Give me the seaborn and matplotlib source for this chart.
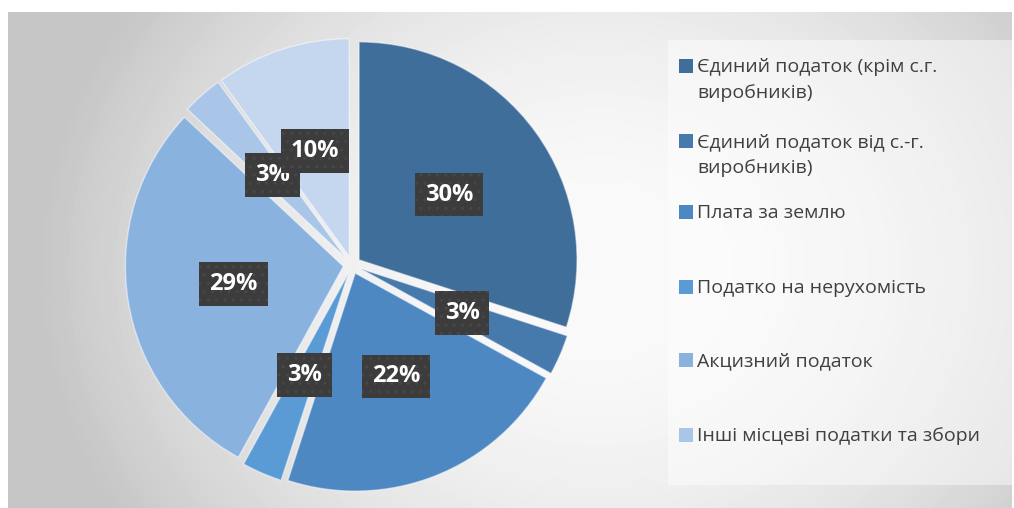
import numpy as np
import matplotlib
matplotlib.use("Agg")
import matplotlib.pyplot as plt
from matplotlib.patches import Rectangle
import seaborn as sns

sns.set_theme(style="white")
plt.rcParams['font.family'] = ['Open Sans', 'DejaVu Sans']
plt.rcParams['hatch.linewidth'] = 1.0

# data
categories = [
    "Єдиний податок (крім с.г.\nвиробників)",
    "Єдиний податок від с.-г.\nвиробників)",
    "Плата за землю",
    "Податко на нерухомість",
    "Акцизний податок",
    "Інші місцеві податки та збори",
]
# seven slices in the chart; the legend only fits the first six
shares = [30, 3, 22, 3, 29, 3, 10]
colors = ["#3F6E9A", "#4679AC", "#4E88C2", "#5B9BD5", "#8AB2DF", "#A9C6E8", "#C4D7EE"]

W, H = 1014, 508
fig = plt.figure(figsize=(W / 100, H / 100), dpi=100)
fig.patch.set_facecolor("white")

# gradient background frame
bg = fig.add_axes([8 / W, 0, (1012 - 8) / W, (508 - 12) / H])
bg.set_axis_off()
yy, xx = np.mgrid[12:508, 8:1012]
d2 = ((xx - 600) / 560.0) ** 2 + ((yy - 270) / 480.0) ** 2
val = np.clip(250 - 52 * d2, 198, 255) / 255.0
bg.imshow(val, cmap="gray", vmin=0, vmax=1, aspect="auto", interpolation="bilinear")

# legend panel
fig.add_artist(Rectangle((668 / W, 1 - 485 / H), (1012 - 668) / W, (485 - 40) / H,
                         transform=fig.transFigure, facecolor="white", alpha=0.45,
                         edgecolor="none"))

# pie
R = 218
cx, cy = 352, 265
half = 1.1 * R
ax = fig.add_axes([(cx - half) / W, (H - cy - half) / H, 2 * half / W, 2 * half / H])
wedges, texts, autotexts = ax.pie(
    shares, colors=colors, startangle=90, counterclock=False,
    explode=[0.04] * len(shares), pctdistance=0.51,
    autopct=lambda p: f"{p:.0f}%",
    wedgeprops=dict(edgecolor=(1, 1, 1, 0.5), linewidth=1.0),
    textprops=dict(color="white", fontsize=17, fontweight="bold"),
)
ax.set_xlim(-1.1, 1.1)
ax.set_ylim(-1.1, 1.1)
ax.set_axis_off()

# dark dotted label boxes
for t in autotexts:
    t.set_bbox(dict(boxstyle="square,pad=0.42", facecolor="#3C3C3C",
                    edgecolor="#474747", linewidth=0, hatch=".."))

# legend (first six entries, as in the original)
legend_rows = [66, 141, 212, 287, 360, 435]
line_gap = 26
for i, (lab, y) in enumerate(zip(categories, legend_rows)):
    fig.add_artist(Rectangle((679 / W, 1 - (y + 7) / H), 14 / W, 14 / H,
                             transform=fig.transFigure, facecolor=colors[i],
                             edgecolor="none"))
    for k, ln in enumerate(lab.split("\n")):
        fig.text(697 / W, 1 - (y + 1 + k * line_gap) / H, ln, ha="left", va="center",
                 fontsize=14, color="#404040")

fig.savefig("out.png", dpi=100, facecolor="white")
